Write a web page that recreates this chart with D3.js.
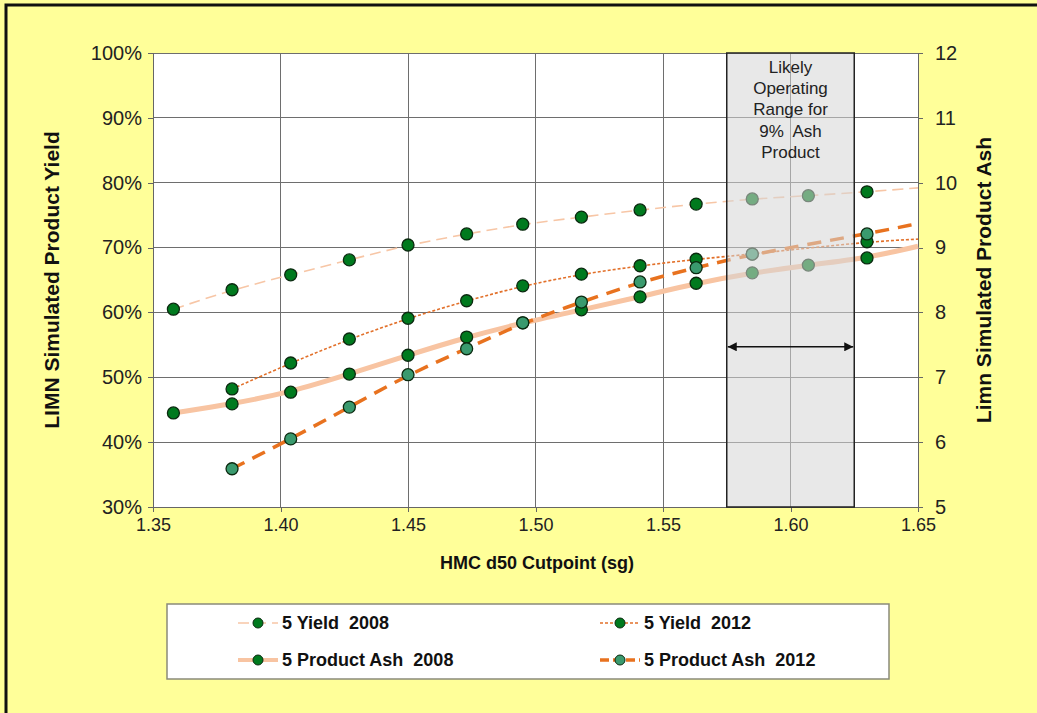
<!DOCTYPE html>
<html>
<head>
<meta charset="utf-8">
<style>
  body { margin: 0; background: #ffff99; }
  svg { display: block; font-family: "Liberation Sans", Arial, sans-serif; }
  .grid line { stroke: #6e6e6e; stroke-width: 1; shape-rendering: crispEdges; }
  .axis path, .axis line { stroke: #666; shape-rendering: crispEdges; }
  .axis text { fill: #222; }
  .ttl { font-weight: bold; fill: #111; }
  .leg text { font-weight: bold; font-size: 18px; fill: #111; white-space: pre; }
</style>
</head>
<body>
<svg width="1037" height="713"></svg>
<script src="https://d3js.org/d3.v7.min.js"></script>
<script>
// values
var cutpoints = [1.358, 1.381, 1.404, 1.427, 1.450, 1.473, 1.495, 1.518, 1.541, 1.563, 1.585, 1.607, 1.630];
var yield2008 = [60.5, 63.5, 65.8, 68.1, 70.4, 72.1, 73.6, 74.7, 75.8, 76.7, 77.5, 78.0, 78.6];
var yield2012 = [null, 48.2, 52.2, 55.9, 59.1, 61.8, 64.1, 65.9, 67.2, 68.2, 69.0, null, 70.9];
var ash2008   = [6.45, 6.59, 6.77, 7.05, 7.34, 7.62, 7.84, 8.04, 8.24, 8.45, 8.61, 8.73, 8.84];
var ash2012   = [null, 5.59, 6.05, 6.54, 7.04, 7.44, 7.84, 8.16, 8.47, 8.69, 8.90, null, 9.21];
// where each trend line leaves the plot at the right edge (1.65)
var trendEnd = [79.2, 71.3, 9.02, 9.37];

var xTicks = [1.35, 1.40, 1.45, 1.50, 1.55, 1.60, 1.65];
var yieldTicks = [30, 40, 50, 60, 70, 80, 90, 100];
var ashTicks = [5, 6, 7, 8, 9, 10, 11, 12];
var rangeBox = [1.575, 1.625];
var rangeLabel = ["Likely", "Operating", "Range for", "9%  Ash", "Product"];
var arrowYield = 54.7;

var svg = d3.select("svg");

// page frame
svg.append("rect").attr("x", 6).attr("y", 5).attr("width", 1100).attr("height", 800)
  .attr("fill", "#ffff99").attr("stroke", "#111").attr("stroke-width", 3);

var margin = {top: 53, left: 153},
    width = 765, height = 454;

var x = d3.scaleLinear().domain([1.35, 1.65]).range([0, width]);
var y = d3.scaleLinear().domain([30, 100]).range([height, 0]);
var y2 = d3.scaleLinear().domain([5, 12]).range([height, 0]);

var g = svg.append("g").attr("transform", "translate(" + margin.left + "," + margin.top + ")");

g.append("rect").attr("width", width).attr("height", height).attr("fill", "white");

// grid
var grid = g.append("g").attr("class", "grid");
grid.selectAll(".gx").data(xTicks).enter().append("line")
  .attr("x1", d => x(d)).attr("x2", d => x(d)).attr("y1", 0).attr("y2", height);
grid.selectAll(".gy").data(yieldTicks).enter().append("line")
  .attr("y1", d => y(d)).attr("y2", d => y(d)).attr("x1", 0).attr("x2", width);

// axes
g.append("g").attr("class", "axis")
  .call(d3.axisLeft(y).tickValues(yieldTicks).tickFormat(d => d + "%").tickSize(5).tickPadding(6))
  .selectAll("text").style("font-size", "20px");
g.append("g").attr("class", "axis").attr("transform", "translate(" + width + ",0)")
  .call(d3.axisRight(y2).tickValues(ashTicks).tickFormat(d3.format("d")).tickSize(5).tickPadding(12))
  .selectAll("text").style("font-size", "20px");
g.append("g").attr("class", "axis").attr("transform", "translate(0," + height + ")")
  .call(d3.axisBottom(x).tickValues(xTicks).tickFormat(d3.format(".2f")).tickSize(5).tickPadding(6))
  .selectAll("text").style("font-size", "18px");

// titles
svg.append("text").attr("class", "ttl").attr("transform", "translate(59,280) rotate(-90)")
  .attr("text-anchor", "middle").style("font-size", "21px").text("LIMN Simulated Product Yield");
svg.append("text").attr("class", "ttl").attr("transform", "translate(991,280) rotate(-90)")
  .attr("text-anchor", "middle").style("font-size", "21px").text("Limn Simulated Product Ash");
svg.append("text").attr("class", "ttl").attr("x", 537).attr("y", 569)
  .attr("text-anchor", "middle").style("font-size", "18px").text("HMC d50 Cutpoint (sg)");

var series = [
  {name: "5 Yield  2008", vals: yield2008, sc: y, color: "#f7c6a6", w: 1.6, dash: "11,6", fill: "#007a1e"},
  {name: "5 Yield  2012", vals: yield2012, sc: y, color: "#e2702a", w: 1.6, dash: "3,2", fill: "#007a1e"},
  {name: "5 Product Ash  2008", vals: ash2008, sc: y2, color: "#f8c4a2", w: 5, dash: null, fill: "#007a1e"},
  {name: "5 Product Ash  2012", vals: ash2012, sc: y2, color: "#e8721f", w: 3.5, dash: "14,9", fill: "#3a9a6e"}
];

series.forEach(function(s, k) {
  s.pts = cutpoints.map((c, i) => ({x: c, v: s.vals[i]})).filter(d => d.v != null);
  var trend = s.pts.concat([{x: 1.65, v: trendEnd[k]}]);
  var line = d3.line().x(d => x(d.x)).y(d => s.sc(d.v)).curve(d3.curveBasis);
  g.append("path").attr("d", line(trend)).attr("fill", "none")
    .attr("stroke", s.color).attr("stroke-width", s.w)
    .attr("stroke-dasharray", s.dash);
});
series.forEach(function(s) {
  g.selectAll(null).data(s.pts).enter().append("circle")
    .attr("cx", d => x(d.x)).attr("cy", d => s.sc(d.v)).attr("r", 6)
    .attr("fill", s.fill).attr("stroke", "#0b2a10").attr("stroke-width", 1.3);
});

// operating range box
g.append("rect").attr("x", x(rangeBox[0])).attr("y", 0)
  .attr("width", x(rangeBox[1]) - x(rangeBox[0])).attr("height", height)
  .attr("fill", "#d6d6d6").attr("fill-opacity", 0.55)
  .attr("stroke", "#222").attr("stroke-width", 1.5);
var cx = x((rangeBox[0] + rangeBox[1]) / 2);
g.append("text").attr("text-anchor", "middle").style("font-size", "17px").attr("fill", "#222")
  .selectAll("tspan").data(rangeLabel).enter().append("tspan")
  .attr("x", cx).attr("y", (d, i) => 20 + i * 21.2).style("white-space", "pre").text(d => d);

var defs = svg.append("defs");
["s", "e"].forEach(function(id) {
  defs.append("marker").attr("id", "ah" + id).attr("viewBox", "0 0 10 10")
    .attr("refX", 10).attr("refY", 5).attr("markerWidth", 9).attr("markerHeight", 9)
    .attr("markerUnits", "userSpaceOnUse").attr("orient", "auto-start-reverse")
    .append("path").attr("d", "M0,0L10,5L0,10z").attr("fill", "#111");
});
g.append("line").attr("x1", x(rangeBox[0]) + 1).attr("x2", x(rangeBox[1]) - 1)
  .attr("y1", y(arrowYield)).attr("y2", y(arrowYield))
  .attr("stroke", "#111").attr("stroke-width", 1.5)
  .attr("marker-start", "url(#ahs)").attr("marker-end", "url(#ahe)");

// legend
svg.append("rect").attr("x", 167).attr("y", 604).attr("width", 722).attr("height", 75)
  .attr("fill", "white").attr("stroke", "#8a8a7a").attr("stroke-width", 1.5);
var legPos = [[258, 623], [620, 623], [258, 660], [620, 660]];
var leg = svg.append("g").attr("class", "leg");
series.forEach(function(s, i) {
  var p = legPos[i];
  var it = leg.append("g").attr("transform", "translate(" + p[0] + "," + p[1] + ")");
  it.append("line").attr("x1", -20).attr("x2", 20)
    .attr("stroke", s.color).attr("stroke-width", Math.min(s.w, 4))
    .attr("stroke-dasharray", s.dash ? (s.w > 3 ? "9,4" : s.dash) : null);
  it.append("circle").attr("r", 5).attr("fill", s.fill).attr("stroke", "#0b2a10").attr("stroke-width", 1);
  it.append("text").attr("x", 24).attr("y", 6).text(s.name);
});
</script>
</body>
</html>
